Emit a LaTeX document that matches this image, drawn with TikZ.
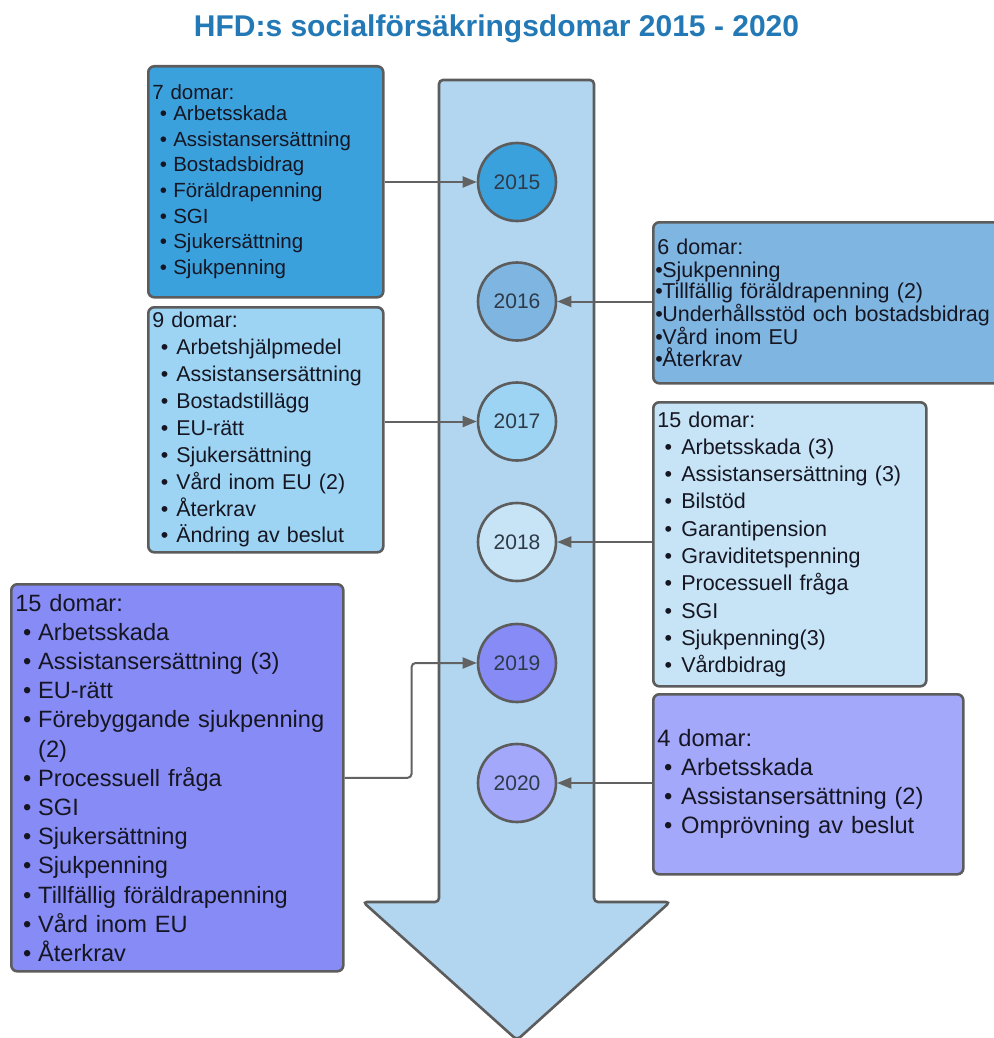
\documentclass[tikz,border=0pt]{standalone}
\usepackage{fontspec}
\setmainfont{Liberation Sans}
\usetikzlibrary{arrows.meta}
\definecolor{cA}{HTML}{3BA1DD}
\definecolor{cB}{HTML}{7FB5E1}
\definecolor{cC}{HTML}{9DD4F3}
\definecolor{cD}{HTML}{C6E4F6}
\definecolor{cE}{HTML}{878BF6}
\definecolor{cF}{HTML}{A3A8FA}
\definecolor{arrowfill}{HTML}{B2D6F0}
\definecolor{bordergray}{HTML}{5C5C5C}
\definecolor{linegray}{HTML}{626262}
\definecolor{txt}{HTML}{161622}
\definecolor{circtxt}{HTML}{2E3A48}
\definecolor{titleblue}{HTML}{2279B6}
\newcommand\itm[3]{\hspace*{#1}\makebox[#2][l]{•}#3}
\begin{document}
\begin{tikzpicture}[x=1pt,y=-1pt,
  box/.style={draw=bordergray, line width=2.6pt, rounded corners=6pt, anchor=north west,
              align=left, inner xsep=4pt, inner ysep=0pt, text=txt},
  yr/.style={circle, draw=bordergray, line width=2.6pt, minimum size=78pt, inner sep=0pt,
             text=circtxt, font=\fontsize{21}{21}\selectfont},
  conn/.style={draw=linegray, line width=2pt, -{Triangle[length=14pt,width=11pt]}}]
\useasboundingbox (0,0) rectangle (993,1038);

% title
\node[font=\bfseries\fontsize{30}{36}\selectfont, text=titleblue, anchor=base] (title)
  at (496.5,37) {HFD:s socialförsäkringsdomar 2015 - 2020};

% big arrow
\draw[draw=bordergray, fill=arrowfill, line width=2.6pt, rounded corners=4pt]
  (439,80) -- (594,80) -- (594,902) -- (670,902) -- (517,1040) -- (363,902) -- (439,902) -- cycle;

% year circles
\node[yr, fill=cA] (c2015) at (517,182) {2015};
\node[yr, fill=cB] (c2016) at (517,301.5) {2016};
\node[yr, fill=cC] (c2017) at (517,421.5) {2017};
\node[yr, fill=cD] (c2018) at (517,542) {2018};
\node[yr, fill=cE] (c2019) at (517,663) {2019};
\node[yr, fill=cF] (c2020) at (517,783) {2020};

% boxes
\node[box, fill=cA, text width=227pt, minimum height=231pt,
      font=\fontsize{20.5}{25.7}\selectfont] (b2015) at (147,65) {%
7 domar:\\[-4.7pt]
\itm{7.5pt}{13.5pt}{Arbetsskada}\\
\itm{7.5pt}{13.5pt}{Assistansersättning}\\
\itm{7.5pt}{13.5pt}{Bostadsbidrag}\\
\itm{7.5pt}{13.5pt}{Föräldrapenning}\\
\itm{7.5pt}{13.5pt}{SGI}\\
\itm{7.5pt}{13.5pt}{Sjukersättning}\\
\itm{7.5pt}{13.5pt}{Sjukpenning}};

\node[box, fill=cB, text width=348pt, minimum height=161pt,
      font=\fontsize{21.5}{21.6}\selectfont] (b2016) at (652,221) {%
6 domar:\\[1pt]
\itm{-2pt}{7pt}{Sjukpenning}\\
\itm{-2pt}{7pt}{Tillfällig föräldrapenning (2)}\\
\itm{-2pt}{7pt}{Underhållsstöd och bostadsbidrag}\\
\itm{-2pt}{7pt}{Vård inom EU}\\
\itm{-2pt}{7pt}{Återkrav}};

\node[box, fill=cC, text width=227pt, minimum height=245pt,
      font=\fontsize{21.4}{26.9}\selectfont] (b2017) at (147,306) {%
9 domar:\\
\itm{8.5pt}{15.5pt}{Arbetshjälpmedel}\\
\itm{8.5pt}{15.5pt}{Assistansersättning}\\
\itm{8.5pt}{15.5pt}{Bostadstillägg}\\
\itm{8.5pt}{15.5pt}{EU-rätt}\\
\itm{8.5pt}{15.5pt}{Sjukersättning}\\
\itm{8.5pt}{15.5pt}{Vård inom EU (2)}\\
\itm{8.5pt}{15.5pt}{Återkrav}\\
\itm{8.5pt}{15.5pt}{Ändring av beslut}};

\node[box, fill=cD, text width=265pt, minimum height=284pt,
      font=\fontsize{21.5}{27.3}\selectfont] (b2018) at (652,401) {%
15 domar:\\
\itm{7.3pt}{16.7pt}{Arbetsskada (3)}\\
\itm{7.3pt}{16.7pt}{Assistansersättning (3)}\\
\itm{7.3pt}{16.7pt}{Bilstöd}\\
\itm{7.3pt}{16.7pt}{Garantipension}\\
\itm{7.3pt}{16.7pt}{Graviditetspenning}\\
\itm{7.3pt}{16.7pt}{Processuell fråga}\\
\itm{7.3pt}{16.7pt}{SGI}\\
\itm{7.3pt}{16.7pt}{Sjukpenning(3)}\\
\itm{7.3pt}{16.7pt}{Vårdbidrag}};

\node[box, fill=cE, text width=324pt, minimum height=387pt,
      font=\fontsize{23.6}{29.2}\selectfont] (b2019) at (10,583) {%
15 domar:\\
\itm{7.9pt}{15pt}{Arbetsskada}\\
\itm{7.9pt}{15pt}{Assistansersättning (3)}\\
\itm{7.9pt}{15pt}{EU-rätt}\\
\itm{7.9pt}{15pt}{Förebyggande sjukpenning}\\
\hspace*{22.9pt}(2)\\
\itm{7.9pt}{15pt}{Processuell fråga}\\
\itm{7.9pt}{15pt}{SGI}\\
\itm{7.9pt}{15pt}{Sjukersättning}\\
\itm{7.9pt}{15pt}{Sjukpenning}\\
\itm{7.9pt}{15pt}{Tillfällig föräldrapenning}\\
\itm{7.9pt}{15pt}{Vård inom EU}\\
\itm{7.9pt}{15pt}{Återkrav}};

\node[box, fill=cF, text width=302pt, minimum height=180pt,
      font=\fontsize{23.7}{29}\selectfont] (b2020) at (652,693) {%
4 domar:\\
\itm{6.9pt}{17pt}{Arbetsskada}\\
\itm{6.9pt}{17pt}{Assistansersättning (2)}\\
\itm{6.9pt}{17pt}{Omprövning av beslut}};

% connectors
\draw[conn] (b2015.east) -- ++(47pt,0) |- (c2015.west);
\draw[conn] (b2016.west |- c2016.east) -- (c2016.east);
\draw[conn] (b2017.east |- c2017.west) -- (c2017.west);
\draw[conn] (b2018.west |- c2018.east) -- (c2018.east);
\draw[conn, rounded corners=4pt] (b2019.east) -- ++(67pt,0) |- (c2019.west);
\draw[conn] (b2020.west |- c2020.east) -- (c2020.east);
\end{tikzpicture}
\end{document}
